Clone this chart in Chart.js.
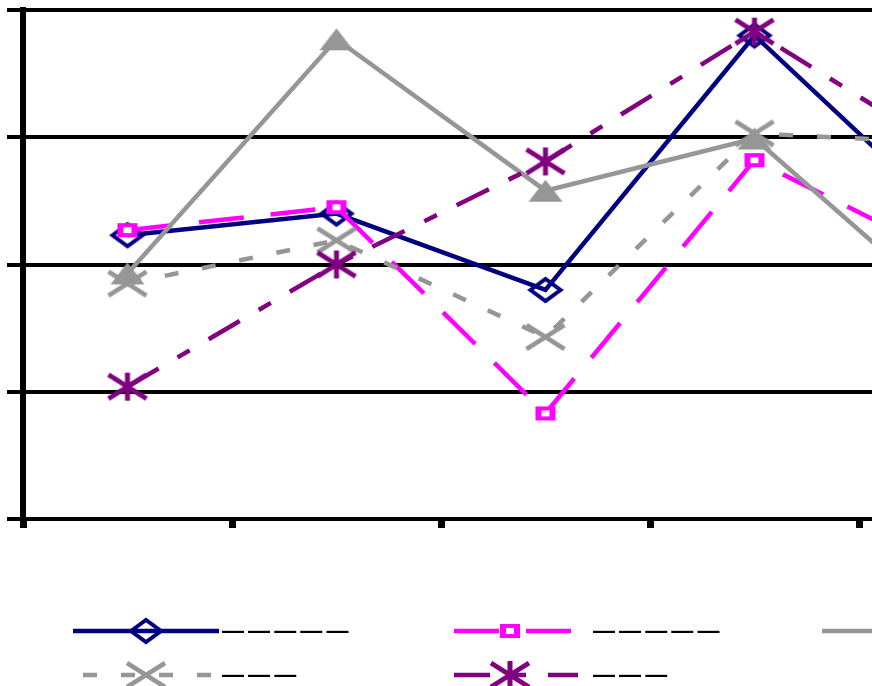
<!DOCTYPE html>
<html>
<head>
<meta charset="utf-8">
<script src="https://cdn.jsdelivr.net/npm/chart.js@4.4.1/dist/chart.umd.min.js"></script>
<style>
  html, body { margin: 0; padding: 0; background: #fff; overflow: hidden; }
  #wrap { width: 1091px; height: 686px; }
</style>
</head>
<body>
<div id="wrap"><canvas id="chart" width="1091" height="686"></canvas></div>
<script>
// Categories carry no visible tick text
var categories = ['', '', '', '', ''];

// Series values (value axis runs 0..4, one gridline per unit)
var seriesNavy    = [2.23, 2.40, 1.80, 3.80, 2.26];
var seriesMagenta = [2.27, 2.45, 0.83, 2.82, 2.00];
var seriesGray    = [1.93, 3.77, 2.58, 2.99, 1.55];
var seriesGrayX   = [1.85, 2.19, 1.43, 3.03, 2.95];
var seriesPurple  = [1.04, 2.00, 2.81, 3.83, 2.81];

// Legend labels
var labelNavy    = '— — — — —';
var labelMagenta = '— — — — —';
var labelGray    = '— — — — —';
var labelGrayX   = '— — —';
var labelPurple  = '— — —';

var yMin = 0, yMax = 4, yStep = 1;

// Small canvases used as point markers
function makeMarker(shape, color) {
    var c = document.createElement('canvas');
    c.width = 46; c.height = 32;
    var g = c.getContext('2d');
    var cx = 23, cy = 16;
    g.strokeStyle = color;
    g.fillStyle = color;
    g.lineCap = 'butt';
    g.beginPath();
    if (shape === 'diamond') {
        g.lineWidth = 4;
        g.moveTo(cx - 15, cy); g.lineTo(cx, cy - 11);
        g.lineTo(cx + 15, cy); g.lineTo(cx, cy + 11);
        g.closePath();
        g.stroke();
    } else if (shape === 'square') {
        g.fillRect(cx - 10, cy - 7, 20, 14);
        g.fillStyle = '#fff';
        g.fillRect(cx - 4, cy - 3, 8, 6);
    } else if (shape === 'triangle') {
        g.moveTo(cx, cy - 11); g.lineTo(cx + 17, cy + 11); g.lineTo(cx - 17, cy + 11);
        g.closePath();
        g.fill();
    } else if (shape === 'cross' || shape === 'star') {
        g.lineWidth = 4.5;
        g.moveTo(cx - 19, cy - 12); g.lineTo(cx + 19, cy + 12);
        g.moveTo(cx + 19, cy - 12); g.lineTo(cx - 19, cy + 12);
        if (shape === 'star') {
            g.lineWidth = 5;
            g.moveTo(cx, cy - 14); g.lineTo(cx, cy + 14);
        }
        g.stroke();
    }
    return c;
}

function series(label, data, color, dash, marker, order) {
    return {
        label: label,
        data: data,
        borderColor: color,
        backgroundColor: color,
        borderWidth: 4.5,
        borderDash: dash,
        tension: 0,
        fill: false,
        pointStyle: makeMarker(marker, color),
        pointRadius: 10,
        order: order
    };
}

// Legend drawn in two rows: line sample with its marker, then the label
var legendCols = [
    { x: 73, w: 146, mark: 73, gap: 3 },
    { x: 454, w: 124, mark: 56, gap: 15 },
    { x: 822, w: 146, mark: 73, gap: 3 }
];
var legendRows = [631, 675];

var sampleLegend = {
    id: 'sampleLegend',
    afterDraw: function (chart) {
        var ctx = chart.ctx;
        chart.data.datasets.forEach(function (ds, i) {
            var col = legendCols[i % 3];
            var y = legendRows[Math.floor(i / 3)];
            var dash = ds.borderDash || [];
            ctx.save();
            ctx.strokeStyle = ds.borderColor;
            ctx.lineWidth = ds.borderWidth;
            ctx.setLineDash(dash);
            // short dashes open with a gap, like the plotted line does
            if (dash.length === 2 && dash[0] < 20) ctx.lineDashOffset = dash[0] + dash[1] - 10;
            ctx.beginPath();
            ctx.moveTo(col.x, y);
            ctx.lineTo(col.x + col.w, y);
            ctx.stroke();
            var m = ds.pointStyle;
            ctx.drawImage(m, col.x + col.mark - m.width / 2, y - m.height / 2);
            ctx.fillStyle = '#000';
            ctx.font = 'bold 22px "Liberation Sans", Arial, sans-serif';
            ctx.letterSpacing = '-1px';
            ctx.textBaseline = 'alphabetic';
            ctx.fillText(ds.label, col.x + col.w + col.gap, y + 7);
            ctx.restore();
        });
    }
};

new Chart(document.getElementById('chart'), {
    type: 'line',
    data: {
        labels: categories,
        datasets: [
            series(labelNavy, seriesNavy, '#000080', [], 'diamond', 5),
            series(labelMagenta, seriesMagenta, '#ff00ff', [45, 27], 'square', 4),
            series(labelGray, seriesGray, '#969696', [], 'triangle', 3),
            series(labelGrayX, seriesGrayX, '#969696', [14, 24], 'cross', 2),
            series(labelPurple, seriesPurple, '#800080', [36, 22, 14, 22], 'star', 1)
        ]
    },
    options: {
        responsive: false,
        animation: false,
        layout: {
            autoPadding: false,
            padding: { top: 10, right: 23, bottom: 155, left: 0 }
        },
        plugins: {
            legend: { display: false },
            tooltip: { enabled: false }
        },
        scales: {
            x: {
                offset: true,
                grid: {
                    offset: true,
                    drawOnChartArea: false,
                    drawTicks: true,
                    tickLength: 9,
                    tickWidth: 7,
                    tickColor: '#000',
                    color: '#000'
                },
                border: { display: true, color: '#000', width: 4 },
                ticks: { display: false },
                afterFit: function (scale) { scale.height = 12; }
            },
            y: {
                min: yMin,
                max: yMax,
                ticks: { display: false, stepSize: yStep },
                grid: { color: '#000', lineWidth: 4, drawTicks: true, tickLength: 16 },
                border: { display: true, color: '#000', width: 6 },
                afterFit: function (scale) { scale.width = 23; }
            }
        }
    },
    plugins: [sampleLegend]
});
</script>
</body>
</html>
